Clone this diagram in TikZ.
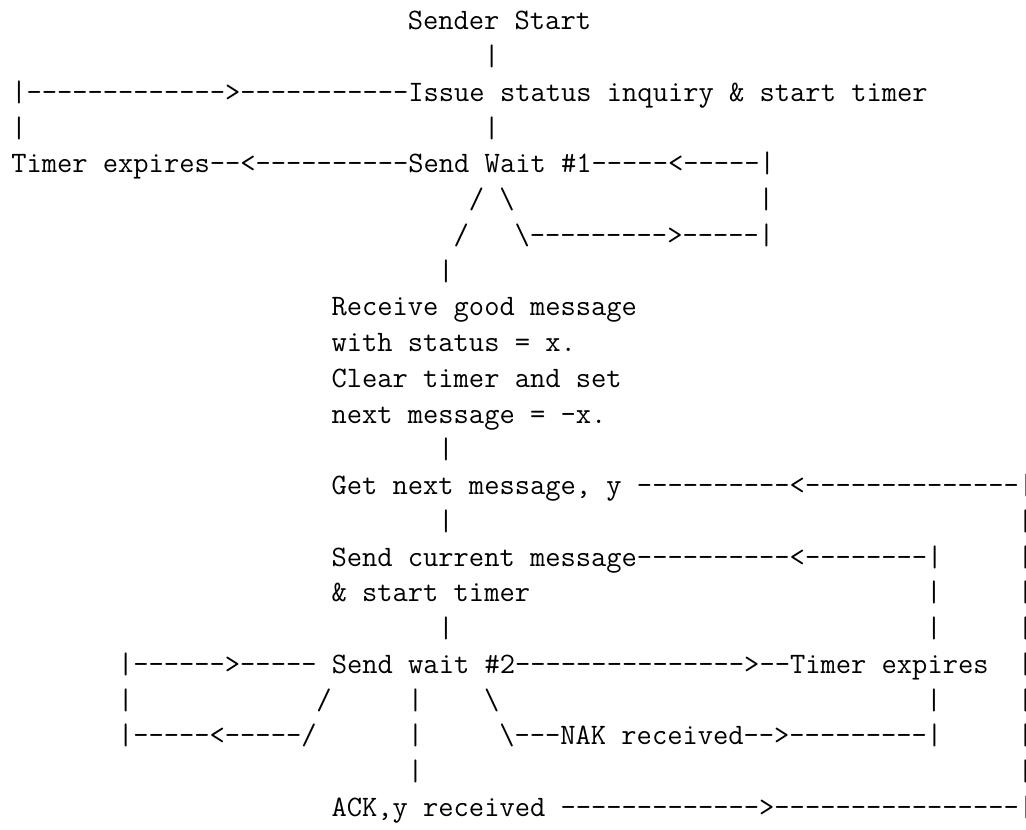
\documentclass[tikz,border=0pt]{standalone}
\usepackage{fontspec}
\frenchspacing
% one text run of the chart, placed by column and row of a fixed character grid
% (columns 15.25pt wide, rows 35.75pt apart)
\newcommand\putrun[4]{\node[ascii] (#1) at ({11.275+15.25*#2},{835.75-35.75*#3}) {#4};}
\begin{document}
\begin{tikzpicture}[x=1pt,y=1pt,
  ascii/.style={anchor=base west, inner sep=0pt, outer sep=0pt, text=black,
    font=\fontsize{29.657}{36}\selectfont\ttfamily}]
\fill[white] (0,0) rectangle (1026,830);
\useasboundingbox (0,0) rectangle (1026,830);
\clip (0,0) rectangle (1026,830);

% start and status inquiry
\putrun{start}{26}{1}{Sender Start}
\putrun{v2}{31}{2}{|}
\putrun{inquiry}{0}{3}{|------------->-----------Issue status inquiry \& start timer}
\putrun{v4a}{0}{4}{|}
\putrun{v4b}{31}{4}{|}
\putrun{wait1}{0}{5}{Timer expires--<----------Send Wait \#1-----<-----|}
\putrun{s6a}{30}{6}{/}
\putrun{s6b}{32}{6}{\textbackslash}
\putrun{v6}{49}{6}{|}
\putrun{s7a}{29}{7}{/}
\putrun{loop1}{33}{7}{\textbackslash--------->-----|}
\putrun{v8}{28}{8}{|}

% good message received
\putrun{recv1}{21}{9}{Receive good message}
\putrun{recv2}{21}{10}{with status = x.}
\putrun{recv3}{21}{11}{Clear timer and set}
\putrun{recv4}{21}{12}{next message = -x.}
\putrun{v13}{28}{13}{|}

% next message and send
\putrun{getnext}{21}{14}{Get next message, y ----------<--------------|}
\putrun{v15a}{28}{15}{|}
\putrun{v15b}{66}{15}{|}
\putrun{sendcur}{21}{16}{Send current message----------<--------|}
\putrun{v16}{66}{16}{|}
\putrun{sendcur2}{21}{17}{\& start timer}
\putrun{v17a}{60}{17}{|}
\putrun{v17b}{66}{17}{|}
\putrun{v18a}{28}{18}{|}
\putrun{v18b}{60}{18}{|}
\putrun{v18c}{66}{18}{|}

% wait #2 and its outcomes
\putrun{wait2}{7}{19}{|------>----- Send wait \#2--------------->--Timer expires}
\putrun{v19}{66}{19}{|}
\putrun{v20a}{7}{20}{|}
\putrun{s20a}{20}{20}{/}
\putrun{v20b}{26}{20}{|}
\putrun{s20b}{31}{20}{\textbackslash}
\putrun{v20c}{60}{20}{|}
\putrun{v20d}{66}{20}{|}
\putrun{loop2}{7}{21}{|-----<-----/}
\putrun{v21a}{26}{21}{|}
\putrun{nak}{32}{21}{\textbackslash---NAK received-->---------|}
\putrun{v21b}{66}{21}{|}
\putrun{v22a}{26}{22}{|}
\putrun{v22b}{66}{22}{|}
\putrun{ack}{21}{23}{ACK,y received ------------->----------------|}
\end{tikzpicture}
\end{document}
